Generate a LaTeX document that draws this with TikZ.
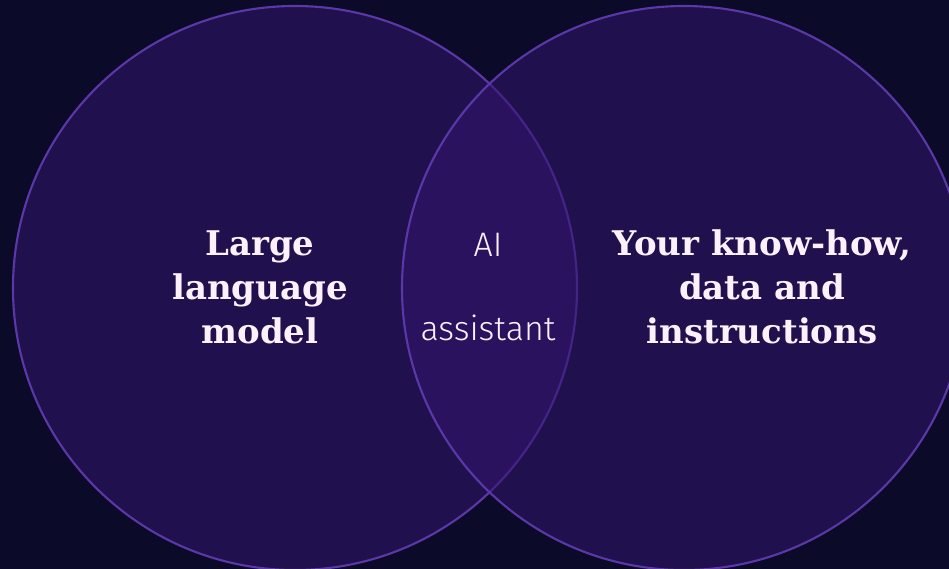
\documentclass[tikz,border=0pt]{standalone}
\usepackage{fontspec}
\newfontfamily\slabfont{DejaVu Serif}
\newfontfamily\thinfont{Fira Sans Light}
\definecolor{nightbg}{RGB}{12,10,41}
\definecolor{venfill}{RGB}{52,21,109}
\definecolor{venline}{RGB}{90,56,168}
\definecolor{pinkwhite}{RGB}{252,240,250}
\begin{document}
\begin{tikzpicture}[x=0.03cm,y=-0.03cm,
  set/.style={circle,draw=venline,line width=1.8pt,fill=venfill,fill opacity=0.55,minimum size=16.92cm,inner sep=0pt},
  big label/.style={text=pinkwhite,align=center,font=\slabfont\bfseries\fontsize{29}{37.6}\selectfont},
  mid label/.style={text=pinkwhite,align=center,font=\thinfont\fontsize{29}{34}\selectfont}]
  \useasboundingbox[fill=nightbg] (0,0) rectangle (949,569);
  \clip (0,0) rectangle (949,569);
  \node[set] (llm) at (295,288) {};
  \node[set] (own) at (684,288) {};

  \node[big label] (llmtext) at (260,287) {Large\\language\\model};
  \node[big label] (owntext) at (762,287) {Your know-how,\\data and\\instructions};
  \node[mid label] (aitext) at (488,287) {AI\\[38pt]assistant};
\end{tikzpicture}
\end{document}
